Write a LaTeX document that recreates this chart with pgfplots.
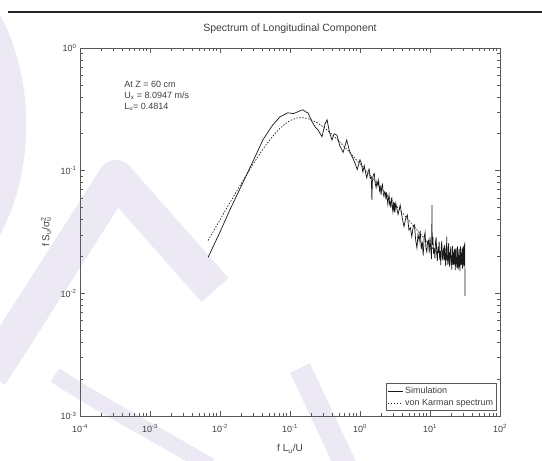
\documentclass[border=0pt]{standalone}
\usepackage{fontspec}
\setmainfont{Liberation Sans}
\usepackage{pgfplots}
\pgfplotsset{compat=1.18}
\definecolor{axgray}{gray}{0.35}
\definecolor{txtgray}{gray}{0.25}
\definecolor{lav}{RGB}{236,233,244}
\begin{document}
\begin{tikzpicture}[x=1pt,y=1pt]
\path[use as bounding box] (0,0) rectangle (542,461);
\fill[white] (0,0) rectangle (542,461);
% faint watermark
\fill[lav] (0,446) .. controls (35,381) and (35,291) .. (0,226) -- cycle;
\draw[lav, line width=36pt, line join=round] (-10,86) -- (116,283) -- (215,171);
\draw[lav, line width=16pt] (55,86) .. controls (100,56) and (150,31) .. (210,-5);
\draw[lav, line width=22pt] (300,93) -- (346,-5);
\draw[black!85, line width=1.2pt] (8,449) -- (542,449);
\begin{loglogaxis}[
  at={(80pt,45pt)}, anchor=south west,
  width=420pt, height=368pt, scale only axis,
  xmin=1e-4, xmax=1e2, ymin=1e-3, ymax=1,
  xtick={1e-4,1e-3,1e-2,1e-1,1,10,100},
  xticklabels={10\textsuperscript{-4},10\textsuperscript{-3},10\textsuperscript{-2},10\textsuperscript{-1},10\textsuperscript{0},10\textsuperscript{1},10\textsuperscript{2}},
  ytick={1e-3,1e-2,1e-1,1},
  yticklabels={10\textsuperscript{-3},10\textsuperscript{-2},10\textsuperscript{-1},10\textsuperscript{0}},
  minor xtick={2e-4,3e-4,4e-4,5e-4,6e-4,7e-4,8e-4,9e-4,2e-3,3e-3,4e-3,5e-3,6e-3,7e-3,8e-3,9e-3,2e-2,3e-2,4e-2,5e-2,6e-2,7e-2,8e-2,9e-2,0.2,0.3,0.4,0.5,0.6,0.7,0.8,0.9,2,3,4,5,6,7,8,9,20,30,40,50,60,70,80,90},
  minor ytick={2e-3,3e-3,4e-3,5e-3,6e-3,7e-3,8e-3,9e-3,2e-2,3e-2,4e-2,5e-2,6e-2,7e-2,8e-2,9e-2,0.2,0.3,0.4,0.5,0.6,0.7,0.8,0.9},
  tick align=inside, major tick length=5pt, minor tick length=3pt,
  axis line style={axgray, line width=0.8pt},
  every tick/.style={axgray, line width=0.6pt},
  tick label style={font=\fontsize{9}{10}\selectfont, text=txtgray},
  xticklabel style={yshift=-5pt},
  title={Spectrum of Longitudinal Component},
  title style={at={(axis description cs:0.5,1.036)}, anchor=center, font=\fontsize{10.5}{12}\selectfont, text=txtgray},
  xlabel={f L\textsubscript{u}/U},
  xlabel style={at={(axis description cs:0.5,-0.09)}, anchor=center, font=\fontsize{10}{12}\selectfont, text=txtgray},
  ylabel={f S\textsubscript{u}/σ\textsubscript{u}\llap{\textsuperscript{2}}},
  ylabel style={at={(axis description cs:-0.081,0.5)}, anchor=center, font=\fontsize{10}{12}\selectfont, text=txtgray},
  legend style={at={(axis description cs:0.993,0.014)}, anchor=south east, draw=axgray, fill=white, line width=0.8pt, font=\fontsize{9}{10}\selectfont, text=txtgray, inner sep=1.5pt, row sep=0pt},
  legend cell align=left,
  legend image code/.code={\draw[#1] (0pt,0pt) -- (15pt,0pt);},
]
\addplot[black!90, line width=0.7pt] coordinates {
(0.00676,0.01963)(0.01,0.0316)(0.0139,0.0482)(0.01995,0.0741)(0.02685,0.1057)(0.0411,0.1786)(0.0562,0.2344)(0.0719,0.2748)(0.0933,0.2965)(0.1122,0.292)(0.1259,0.300)(0.1413,0.309)(0.1535,0.3133)(0.1698,0.300)(0.1807,0.2965)(0.1995,0.26)(0.2275,0.228)(0.2512,0.215)(0.2864,0.189)(0.3162,0.24)(0.3388,0.26)(0.363,0.21)(0.398,0.178)(0.427,0.20)(0.468,0.195)(0.513,0.16)(0.575,0.141)(0.646,0.178)(0.708,0.145)(0.776,0.129)(0.851,0.115)(0.912,0.102)(1.0,0.123)
(1.05,0.1134)(1.10,0.0978)(1.15,0.1101)(1.20,0.0965)(1.25,0.0873)(1.30,0.0974)(1.35,0.1032)(1.40,0.0865)(1.45,0.089)(1.48,0.0575)(1.50,0.0810)(1.55,0.0925)(1.60,0.0949)(1.65,0.0787)(1.70,0.0728)(1.75,0.0822)(1.80,0.0758)(1.85,0.0836)(1.90,0.0688)(1.95,0.0737)(2.00,0.0635)(2.05,0.0742)(2.10,0.0773)(2.15,0.0647)(2.20,0.0617)(2.25,0.0670)(2.30,0.0662)(2.35,0.0583)(2.40,0.0665)(2.45,0.0585)(2.50,0.0531)(2.55,0.0595)(2.60,0.0633)(2.65,0.0532)(2.70,0.055)(2.75,0.0501)(2.80,0.0581)(2.85,0.0599)(2.90,0.0499)(2.95,0.0464)(3.00,0.0525)(3.05,0.0493)(3.10,0.0545)(3.15,0.0456)
(3.25,0.0543)(3.5,0.0440)(3.75,0.0524)(4.0,0.0416)(4.25,0.0350)(4.5,0.0408)(4.75,0.0435)(5.0,0.0328)(5.25,0.0342)(5.5,0.0289)(5.75,0.0349)(6.0,0.0361)
(6.25,0.0270)(6.5,0.0235)(6.75,0.0303)(7.0,0.0267)(7.25,0.0324)(7.5,0.0228)(7.75,0.0265)(8.0,0.0203)(8.25,0.0286)(8.5,0.0314)(8.75,0.0233)(9.0,0.0218)(9.25,0.0263)
(9.5,0.0271)(9.75,0.0215)(10.0,0.0287)(10.25,0.0229)(10.5,0.0191)(10.7,0.0525)(10.75,0.0249)(11.0,0.0288)(11.25,0.0211)(11.5,0.0232)(11.75,0.0193)(12.0,0.0263)(12.25,0.0286)(12.5,0.0208)(12.75,0.0184)(13.0,0.0240)(13.25,0.0214)(13.5,0.0264)(13.75,0.0188)(14.0,0.0222)(14.25,0.0171)(14.5,0.0242)(14.75,0.0267)(15.0,0.0199)(15.25,0.0186)(15.5,0.0226)
(15.75,0.0233)(16.0,0.0186)(16.25,0.0248)(16.5,0.0199)(16.75,0.0166)(17.0,0.0217)(17.25,0.0253)(17.4,0.029)(17.5,0.0185)(17.75,0.0205)(18.0,0.0171)(18.25,0.0233)(18.5,0.0256)(18.75,0.0186)(19.0,0.0165)(19.25,0.0216)(19.5,0.0194)(19.75,0.0240)(20.0,0.0171)(20.25,0.0203)(20.5,0.0156)(20.75,0.0222)(21.0,0.0244)(21.25,0.0183)(21.5,0.0171)(21.75,0.0208)
(22.0,0.0215)(22.25,0.0172)(22.5,0.0230)(22.75,0.0184)(23.0,0.0155)(23.25,0.0204)(23.5,0.0235)(23.75,0.0174)(24.0,0.0192)(24.25,0.0161)(24.5,0.0220)(24.75,0.0241)(25.0,0.0176)(25.25,0.0157)(25.5,0.0206)(25.75,0.0186)(26.0,0.0230)(26.25,0.0165)(26.5,0.0197)(26.75,0.0152)(27.0,0.0217)(27.25,0.0241)(27.5,0.0180)(27.75,0.0170)(28.0,0.0207)
(28.25,0.0215)(28.5,0.0172)(28.75,0.0231)(29.0,0.0187)(29.25,0.0158)(29.5,0.0207)(29.75,0.0242)(30.0,0.0178)(30.25,0.0198)(30.5,0.0167)(30.75,0.0229)(31.0,0.0251)(31.25,0.0184)(31.5,0.0263)(31.55,0.0095)
};
\addlegendentry{Simulation}
\addplot[black!90, line width=0.7pt, dash pattern=on 1.4pt off 1.6pt] coordinates {
(0.00676,0.02698)(0.01,0.03975)(0.01259,0.04989)(0.01585,0.06252)(0.01995,0.07798)(0.02512,0.09683)(0.03162,0.1194)(0.03981,0.1457)(0.05012,0.1750)(0.06310,0.2051)(0.07943,0.2333)(0.1,0.2559)(0.1259,0.2692)(0.1585,0.2704)(0.1995,0.2612)(0.2512,0.2438)(0.3162,0.2218)(0.3981,0.1977)(0.5012,0.1742)(0.6310,0.1517)(0.7943,0.1315)(1,0.1135)(1.778,0.0780)(3.162,0.0533)(5.623,0.0363)(10,0.02475)(12.59,0.0212)
};
\addlegendentry{von Karman spectrum}
\node[anchor=north west, align=left, font=\fontsize{9}{11}\selectfont, text=txtgray, inner sep=0pt] at (axis description cs:0.105,0.91) {At Z = 60 cm\\U\textsubscript{x} = 8.0947 m/s\\L\textsubscript{u}= 0.4814};
\end{loglogaxis}
\end{tikzpicture}
\end{document}
